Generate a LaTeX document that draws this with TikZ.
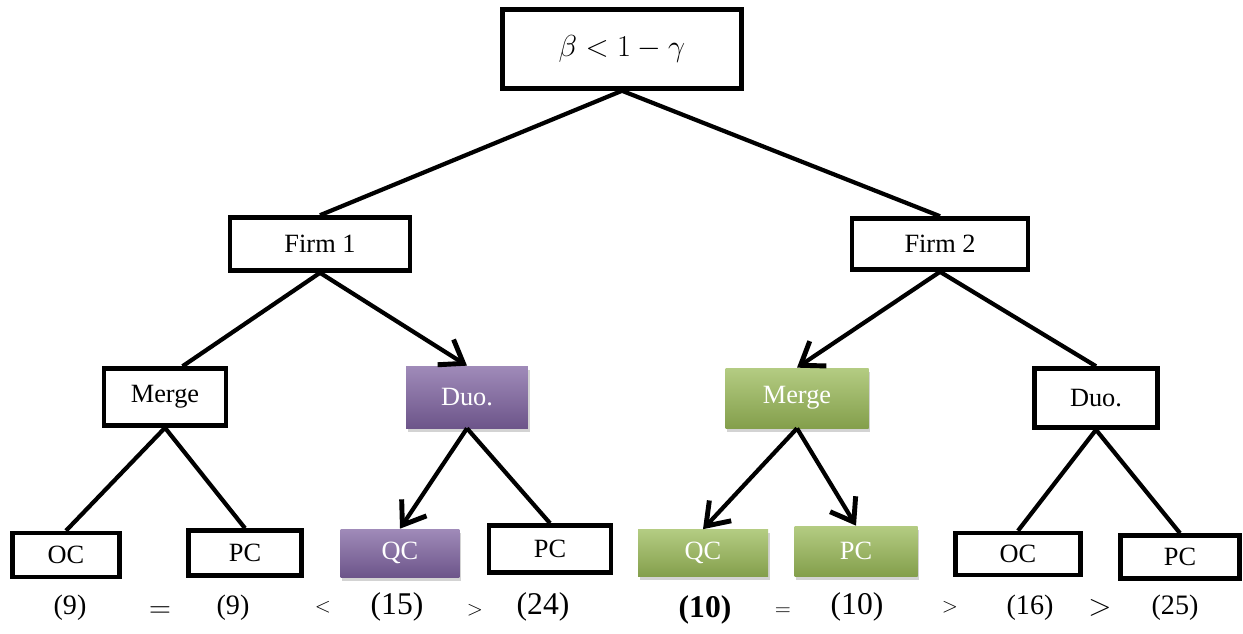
\documentclass[tikz,border=0pt]{standalone}
\usepackage{fontspec}
\setmainfont{Liberation Serif}
\usepackage{tikz}
\usetikzlibrary{arrows.meta, shadows}
\definecolor{duopurple}{RGB}{128, 100, 162}
\definecolor{mergegreen}{RGB}{155, 187, 89}

\tikzset{
  box/.style={draw, line width=2.6pt, fill=white, font=\fontsize{15}{17}\selectfont, inner sep=0pt},
  purplebox/.style={inner sep=0pt, font=\fontsize{15}{17}\selectfont, text=white,
    top color=duopurple!75!white, bottom color=duopurple!85!black,
    drop shadow={shadow xshift=1pt, shadow yshift=-2pt, opacity=0.35}},
  greenbox/.style={inner sep=0pt, font=\fontsize{15}{17}\selectfont, text=white,
    top color=mergegreen!75!white, bottom color=mergegreen!85!black,
    drop shadow={shadow xshift=1pt, shadow yshift=-2pt, opacity=0.35}},
  link/.style={line width=2.4pt},
  choice/.style={line width=2.4pt, -{Straight Barb[length=12pt, width=17pt, line width=2.8pt]}},
  payoff/.style={font=\fontsize{16}{18}\selectfont},
  relsmall/.style={font=\fontsize{13}{15}\selectfont}
}

\begin{document}
\begin{tikzpicture}[x=0.02cm, y=-0.02cm]
\useasboundingbox (0,0) rectangle (1243,633);

\node[box, minimum width=4.78cm, minimum height=1.58cm, font=\fontsize{19}{21}\selectfont] (root) at (622,49) {$\beta < 1-\gamma$};

% Firms
\node[box, minimum width=3.6cm, minimum height=1.06cm] (firm1) at (320,244) {Firm 1};
\node[box, minimum width=3.52cm, minimum height=1.02cm] (firm2) at (940,244) {Firm 2};

% Second stage
\node[box, minimum width=2.44cm, minimum height=1.14cm] (merge1) at (165,397) {Merge};
\node[purplebox, minimum width=2.44cm, minimum height=1.24cm] (duo1) at (467,397) {Duo.};
\node[greenbox, minimum width=2.86cm, minimum height=1.2cm] (merge2) at (797,398) {Merge};
\node[box, minimum width=2.46cm, minimum height=1.18cm] (duo2) at (1096,398) {Duo.};

% Outcomes
\node[box, minimum width=2.14cm, minimum height=0.88cm] (oc1) at (66,555) {OC};
\node[box, minimum width=2.26cm, minimum height=0.9cm] (pc1) at (245,553) {PC};
\node[purplebox, minimum width=2.38cm, minimum height=0.96cm] (qc1) at (400,553) {QC};
\node[box, minimum width=2.44cm, minimum height=0.94cm] (pc2) at (550,549) {PC};
\node[greenbox, minimum width=2.6cm, minimum height=0.94cm] (qc2) at (703,553) {QC};
\node[greenbox, minimum width=2.46cm, minimum height=1.0cm] (pc3) at (856,551) {PC};
\node[box, minimum width=2.5cm, minimum height=0.84cm] (oc2) at (1018,554) {OC};
\node[box, minimum width=2.38cm, minimum height=0.86cm] (pc4) at (1180,557) {PC};

\draw[link] (root.south) -- (firm1.north);
\draw[link] (root.south) -- (firm2.north);

\draw[link] (firm1.south) -- ([xshift=10]merge1.north);
\draw[choice] (firm1.south) -- (duo1.north);
\draw[choice] (firm2.south) -- (merge2.north);
\draw[link] (firm2.south) -- (duo2.north);

\draw[link] (merge1.south) -- (oc1.north);
\draw[link] (merge1.south) -- (pc1.north);
\draw[choice] (duo1.south) -- (qc1.north);
\draw[link] (duo1.south) -- (pc2.north);
\draw[choice] (merge2.south) -- (qc2.north);
\draw[choice] (merge2.south) -- (pc3.north);
\draw[link] (duo2.south) -- (oc2.north);
\draw[link] (duo2.south) -- (pc4.north);

% Payoff comparison
\node[payoff] (p1) at (70,608) {(9)};
\node[payoff] (r1) at (160,612) {$=$};
\node[payoff] (p2) at (233,608) {(9)};
\node[relsmall] (r2) at (323,607) {$<$};
\node[payoff, font=\fontsize{18}{20}\selectfont] (p3) at (397,607) {(15)};
\node[relsmall] (r3) at (475,610) {$>$};
\node[payoff, font=\fontsize{18}{20}\selectfont] (p4) at (543,607) {(24)};
\node[payoff, font=\fontsize{18}{20}\selectfont\bfseries] (p5) at (705,610) {(10)};
\node[relsmall] (r4) at (783,612) {$=$};
\node[payoff, font=\fontsize{18}{20}\selectfont] (p6) at (857,607) {(10)};
\node[relsmall] (r5) at (950,607) {$>$};
\node[payoff] (p7) at (1030,608) {(16)};
\node[payoff] (r6) at (1100,608) {$>$};
\node[payoff] (p8) at (1175,608) {(25)};
\end{tikzpicture}
\end{document}
